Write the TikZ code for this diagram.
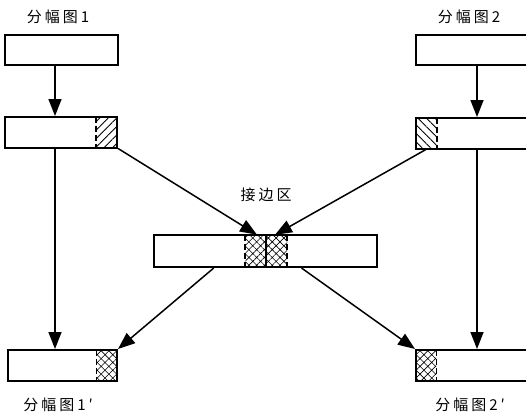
\documentclass[tikz,border=0pt]{standalone}
\usepackage{fontspec}
\setmainfont{Noto Sans CJK SC}[LetterSpace=20]
\usetikzlibrary{arrows.meta,patterns.meta,calc}

\begin{document}
\begin{tikzpicture}[x = 1pt, y = -1pt,
  box/.style = {draw, line width=2pt, inner sep=0pt, minimum height=31pt},
  lbl/.style = {font=\fontsize{15pt}{17pt}\selectfont, inner sep=0pt},
  hne/.style = {anchor=east, inner sep=0pt, minimum width=21pt, minimum height=31pt,
    pattern={Lines[angle=45,distance=6pt,line width=0.9pt]}},
  hnw/.style = {anchor=west, inner sep=0pt, minimum width=21pt, minimum height=31pt,
    pattern={Lines[angle=-45,distance=6pt,line width=0.9pt]}},
  hx/.style = {inner sep=0pt, minimum height=31pt,
    pattern={Hatch[angle=45,distance=5.5pt,line width=0.6pt]}},
  seam/.style = {line width=1.5pt, dash pattern=on 6pt off 3pt},
  arr/.style = {line width=1.5pt, -{Triangle[length=17pt,width=13pt]}}]
\useasboundingbox (0,0) rectangle (526,413);
% boxes
\node[box, minimum width=113pt, minimum height=30pt] (f1) at (61.5,50) {};
\node[box, minimum width=112pt] (b1) at (61,132.5) {};
\node[box, minimum width=114pt, minimum height=30pt] (f2) at (473,50) {};
\node[box, minimum width=114pt] (b2) at (473,133.5) {};
\node[box, minimum width=223pt, minimum height=32pt] (m) at (265.5,251) {};
\node[box, minimum width=109pt] (c1) at (62.5,365.5) {};
\node[box, minimum width=114pt] (c2) at (473,365.5) {};
% hatched overlap strips
\node[hne] (h1) at (b1.east) {};
\node[hnw] (h2) at (b2.west) {};
\node[hx, minimum width=20pt, minimum height=32pt] (hm1) at (255.5,251) {};
\node[hx, minimum width=21pt, minimum height=32pt] (hm2) at (276.5,251) {};
\node[hx, anchor=east, minimum width=21pt] (hc1) at (c1.east) {};
\node[hx, anchor=west, minimum width=21pt] (hc2) at (c2.west) {};
\draw[seam] (h1.north west) -- (h1.south west);
\draw[seam] (h2.north east) -- (h2.south east);
\draw[seam] (hm1.north west) -- (hm1.south west);
\draw[seam] (hm2.north east) -- (hm2.south east);
\draw[line width=1.5pt] (hm1.north east) -- (hm1.south east);
\draw[seam] (hc1.north west) -- (hc1.south west);
\draw[seam] (hc2.north east) -- (hc2.south east);
% labels
\node[lbl] (t1) at (58,17) {分幅图1};
\node[lbl] (t2) at (469,17) {分幅图2};
\node[lbl] (tm) at (266,195) {接边区};
\node[lbl] (t3) at (58,405) {分幅图1′};
\node[lbl] (t4) at (470,405) {分幅图2′};
% arrows
\coordinate (l) at (55,0);
\coordinate (r) at (477,0);
\draw[arr] (f1.south -| l) -- (b1.north -| l);
\draw[arr] (f2.south -| r) -- (b2.north -| r);
\draw[arr] (b1.south -| l) -- (c1.north -| l);
\draw[arr] (b2.south -| r) -- (c2.north -| r);
\draw[arr] (h1.south east) -- ([xshift=1.5pt]hm1.north);
\draw[arr] (h2.south) -- ([xshift=-1.5pt]hm2.north);
\draw[arr] ($(m.south west)!0.27!(m.south east)$) -- (c1.north east);
\draw[arr] ($(m.south west)!0.66!(m.south east)$) -- (c2.north west);
\end{tikzpicture}
\end{document}
